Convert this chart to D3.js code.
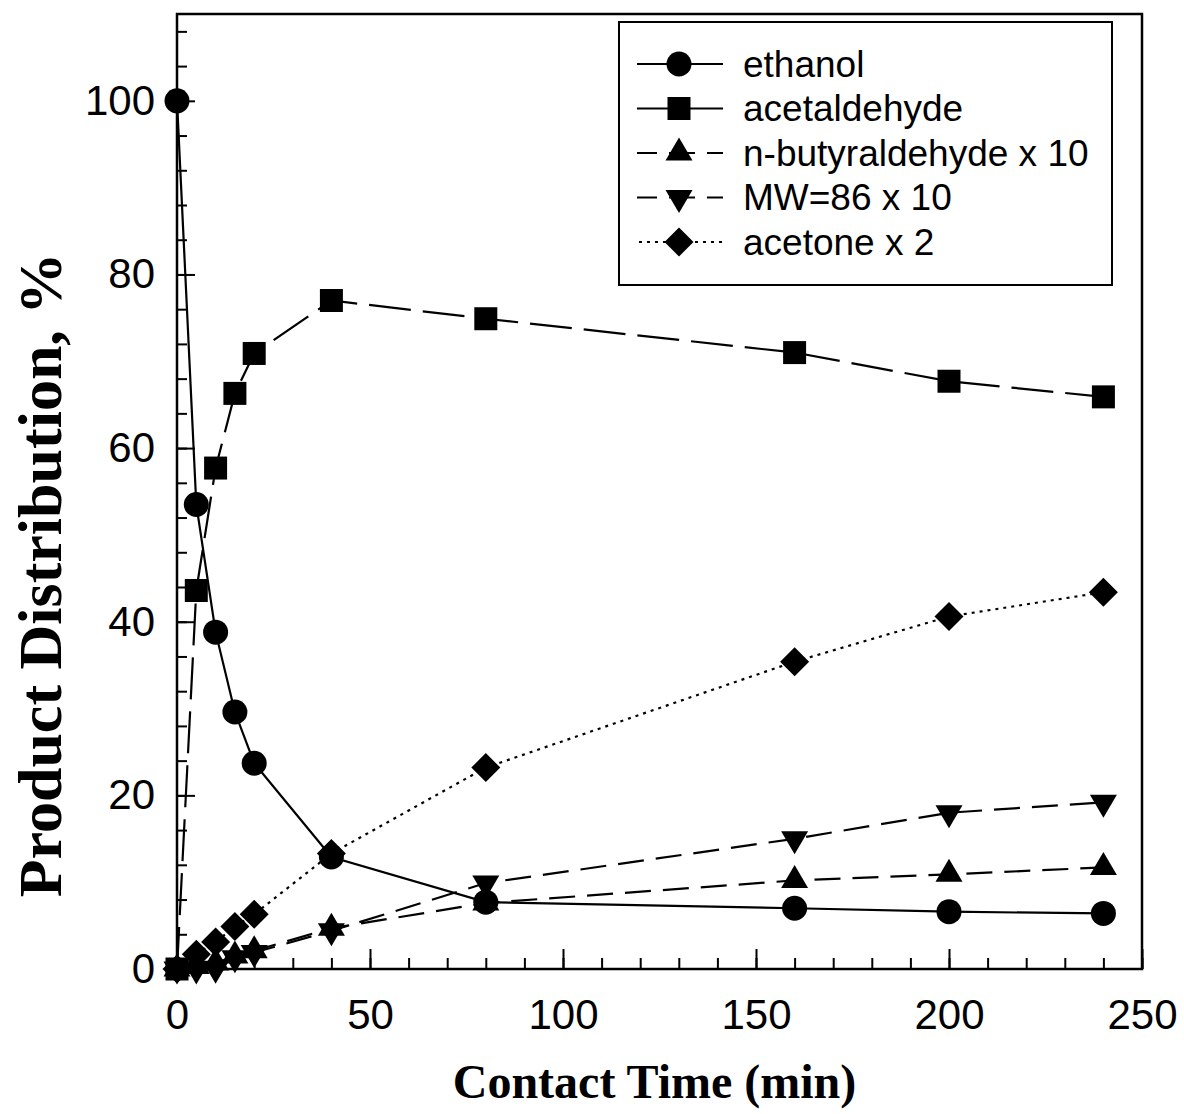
<!DOCTYPE html>
<html>
<head>
<meta charset="utf-8">
<script src="https://cdn.jsdelivr.net/npm/d3@7"></script>
<style>
  body { margin: 0; background: #fff; }
  svg { display: block; }
  .tick text { font-family: "Liberation Sans", Arial, sans-serif; font-size: 42px; fill: #000; }
  .title { font-family: "Liberation Serif", "Times New Roman", serif; font-weight: bold; fill: #000; }
  .legend text { font-family: "Liberation Sans", Arial, sans-serif; font-size: 37px; fill: #000; }
</style>
</head>
<body>
<svg width="1184" height="1114"></svg>
<script>
// contact time (min)
var times = [0, 5, 10, 15, 20, 40, 80, 160, 200, 240];

// product distribution, %
var ethanol      = [100, 53.5, 38.8, 29.6, 23.7, 12.9, 7.7, 7.0, 6.6, 6.4];
var acetaldehyde = [0, 43.6, 57.7, 66.3, 70.9, 77.0, 74.9, 71.0, 67.7, 65.9];
var butyraldehyde = [0, 0.3, 0.7, 1.5, 2.1, 4.7, 7.6, 10.2, 10.9, 11.7];   // x 10
var mw86         = [0, 0, 0.1, 1.3, 1.9, 4.4, 9.9, 15.0, 18.0, 19.2];     // x 10
var acetone      = [0, 1.7, 3.1, 4.9, 6.3, 13.3, 23.2, 35.4, 40.6, 43.4];  // x 2

var seriesNames = ["ethanol", "acetaldehyde", "n-butyraldehyde x 10", "MW=86 x 10", "acetone x 2"];
var seriesValues = [ethanol, acetaldehyde, butyraldehyde, mw86, acetone];
var seriesShapes = ["circle", "square", "up", "down", "diamond"];
var seriesDash = [null, "42,12", "26,12", "26,12", "3,5"];

var xTicks = [0, 50, 100, 150, 200, 250];
var yTicks = [0, 20, 40, 60, 80, 100];

var svg = d3.select("svg"),
    margin = {top: 14, right: 42, bottom: 145, left: 177},
    width = +svg.attr("width") - margin.left - margin.right,
    height = +svg.attr("height") - margin.top - margin.bottom,
    g = svg.append("g").attr("transform", "translate(" + margin.left + "," + margin.top + ")");

var x = d3.scaleLinear().domain([0, 250]).range([0, width]);
var y = d3.scaleLinear().domain([0, 110]).range([height, 0]);

// marker outlines, centred on the data point
function shapePath(kind) {
  switch (kind) {
    case "circle":  return "M12.5,0A12.5,12.5 0 1,1 -12.5,0A12.5,12.5 0 1,1 12.5,0Z";
    case "square":  return "M-11.5,-11.5H11.5V11.5H-11.5Z";
    case "up":      return "M0,-15.5L13.5,7.5L-13.5,7.5Z";
    case "down":    return "M0,15.5L13.5,-7.5L-13.5,-7.5Z";
    case "diamond": return "M0,-14.5L14.5,0L0,14.5L-14.5,0Z";
  }
}

// minor ticks
g.append("g")
    .call(d3.axisLeft(y).tickValues(d3.range(0, 111, 4)).tickSizeInner(-10).tickSizeOuter(0).tickFormat(""))
    .call(function(a) { a.select(".domain").remove(); })
    .selectAll("line").attr("stroke-width", 2);
g.append("g")
    .attr("transform", "translate(0," + height + ")")
    .call(d3.axisBottom(x).tickValues(d3.range(0, 251, 10)).tickSizeInner(-11).tickSizeOuter(0).tickFormat(""))
    .call(function(a) { a.select(".domain").remove(); })
    .selectAll("line").attr("stroke-width", 2);

// major ticks and labels
g.append("g")
    .call(d3.axisLeft(y).tickValues(yTicks).tickSizeInner(-18).tickSizeOuter(0).tickPadding(22))
    .call(function(a) { a.select(".domain").remove(); })
    .selectAll("line").attr("stroke-width", 2);
g.append("g")
    .attr("transform", "translate(0," + height + ")")
    .call(d3.axisBottom(x).tickValues(xTicks).tickSizeInner(-20).tickSizeOuter(0).tickPadding(30))
    .call(function(a) { a.select(".domain").remove(); })
    .selectAll("line").attr("stroke-width", 2);

g.selectAll(".tick text").attr("font-family", null).attr("font-size", null);

// frame
g.append("rect")
    .attr("width", width)
    .attr("height", height)
    .attr("fill", "none")
    .attr("stroke", "#000")
    .attr("stroke-width", 2.5);

var line = d3.line()
    .x(function(d) { return x(d.t); })
    .y(function(d) { return y(d.v); });

var series = seriesNames.map(function(name, i) {
  return {
    name: name,
    shape: seriesShapes[i],
    dash: seriesDash[i],
    points: times.map(function(t, j) { return {t: t, v: seriesValues[i][j]}; })
  };
});

var sg = g.append("g").selectAll("g")
    .data(series)
    .enter().append("g");

sg.append("path")
    .attr("d", function(d) { return line(d.points); })
    .attr("fill", "none")
    .attr("stroke", "#000")
    .attr("stroke-width", 2.2)
    .attr("stroke-dasharray", function(d) { return d.dash; });

sg.selectAll(".pt")
    .data(function(d) { return d.points.map(function(p) { return {t: p.t, v: p.v, shape: d.shape}; }); })
    .enter().append("path")
    .attr("class", "pt")
    .attr("transform", function(d) { return "translate(" + x(d.t) + "," + y(d.v) + ")"; })
    .attr("d", function(d) { return shapePath(d.shape); })
    .attr("fill", "#000");

// legend
var legend = svg.append("g")
    .attr("class", "legend")
    .attr("transform", "translate(619,22)");

legend.append("rect")
    .attr("width", 493)
    .attr("height", 263)
    .attr("fill", "#fff")
    .attr("stroke", "#000")
    .attr("stroke-width", 2);

var item = legend.selectAll(".item")
    .data(series)
    .enter().append("g")
    .attr("class", "item")
    .attr("transform", function(d, i) { return "translate(0," + (42 + i * 44.5) + ")"; });

item.append("line")
    .attr("x1", 18)
    .attr("x2", 104)
    .attr("stroke", "#000")
    .attr("stroke-width", 2.2)
    .attr("stroke-dasharray", function(d) { return d.dash; })
    .attr("stroke-dashoffset", 6);

item.append("path")
    .attr("transform", "translate(60,0)")
    .attr("d", function(d) { return shapePath(d.shape); })
    .attr("fill", "#000");

item.append("text")
    .attr("x", 124)
    .attr("dy", "0.35em")
    .text(function(d) { return d.name; });

// axis titles
svg.append("text")
    .attr("class", "title")
    .attr("x", margin.left + width / 2 - 5)
    .attr("y", 1098)
    .attr("text-anchor", "middle")
    .attr("font-size", 48)
    .text("Contact Time (min)");

svg.append("text")
    .attr("class", "title")
    .attr("transform", "translate(61,575) rotate(-90)")
    .attr("text-anchor", "middle")
    .attr("font-size", 62)
    .text("Product Distribution, %");
</script>
</body>
</html>
